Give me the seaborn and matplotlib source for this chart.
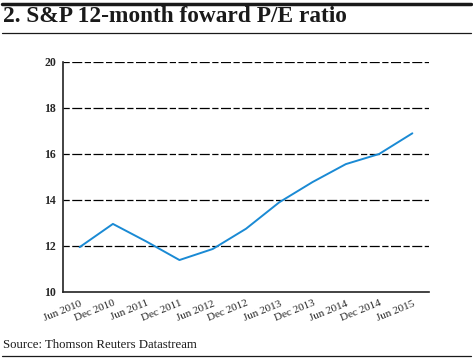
import matplotlib
matplotlib.use("Agg")
import matplotlib.pyplot as plt
from matplotlib.lines import Line2D
from matplotlib.ticker import FixedLocator
import seaborn as sns
import pandas as pd

# data
periods = ["Jun 2010", "Dec 2010", "Jun 2011", "Dec 2011", "Jun 2012", "Dec 2012",
           "Jun 2013", "Dec 2013", "Jun 2014", "Dec 2014", "Jun 2015"]
pe_ratio = [11.95, 12.96, 12.2, 11.39, 11.87, 12.75, 13.9, 14.78, 15.56, 16.0, 16.9]
y_ticks = [10, 12, 14, 16, 18, 20]

df = pd.DataFrame({"period": periods, "pe": pe_ratio})
df["pos"] = range(len(periods))

sns.set_style("white")
plt.rcParams["font.family"] = ["Liberation Serif", "DejaVu Serif"]

fig = plt.figure(figsize=(4.73, 3.59), dpi=100)
ax = fig.add_axes([63 / 473, 1 - 292 / 359, (429 - 63) / 473, (292 - 62) / 359])

for y in y_ticks[1:]:
    ax.axhline(y, color="black", lw=0.9, ls=(0, (5, 2, 8, 2)), zorder=1)

sns.lineplot(data=df, x="pos", y="pe", ax=ax, color="#1a8ad4", lw=1.4, zorder=3)

ax.set_xlim(-0.5, len(periods) - 0.5)
ax.set_ylim(10, 20)
ax.set_yticks(y_ticks)
ax.set_yticklabels([str(t) for t in y_ticks], fontsize=8.5, fontweight="bold")
ax.set_xticks(df["pos"])
ax.set_xticklabels(periods, fontsize=8, rotation=22, ha="right", rotation_mode="anchor")
ax.xaxis.set_minor_locator(FixedLocator([i - 0.5 for i in range(len(periods) + 1)]))
ax.tick_params(axis="x", which="major", length=0, pad=5)
ax.tick_params(axis="x", which="minor", length=6, width=1.2, direction="in", color="#222222")
ax.tick_params(axis="y", length=0, pad=5)
ax.set_xlabel("")
ax.set_ylabel("")
for side in ["top", "right"]:
    ax.spines[side].set_visible(False)
for side in ["left", "bottom"]:
    ax.spines[side].set_color("#222222")
    ax.spines[side].set_linewidth(1.2)

# title block and source rules
fig.add_artist(Line2D([2 / 473, 471 / 473], [1 - 3.5 / 359] * 2, color="#1a1a1a", lw=2.5))
fig.text(3 / 473, 1 - 17 / 359, "2. S&P 12-month foward P/E ratio", fontsize=16.8,
         fontweight="bold", va="center", ha="left", color="#1a1a1a")
fig.add_artist(Line2D([2 / 473, 471 / 473], [1 - 32.5 / 359] * 2, color="#1a1a1a", lw=0.9))
fig.text(3 / 473, 1 - 345 / 359, "Source: Thomson Reuters Datastream", fontsize=9.2,
         va="center", ha="left", color="#1a1a1a")
fig.add_artist(Line2D([2 / 473, 471 / 473], [1 - 355.5 / 359] * 2, color="#1a1a1a", lw=0.9))

fig.savefig("out.png", dpi=100)
